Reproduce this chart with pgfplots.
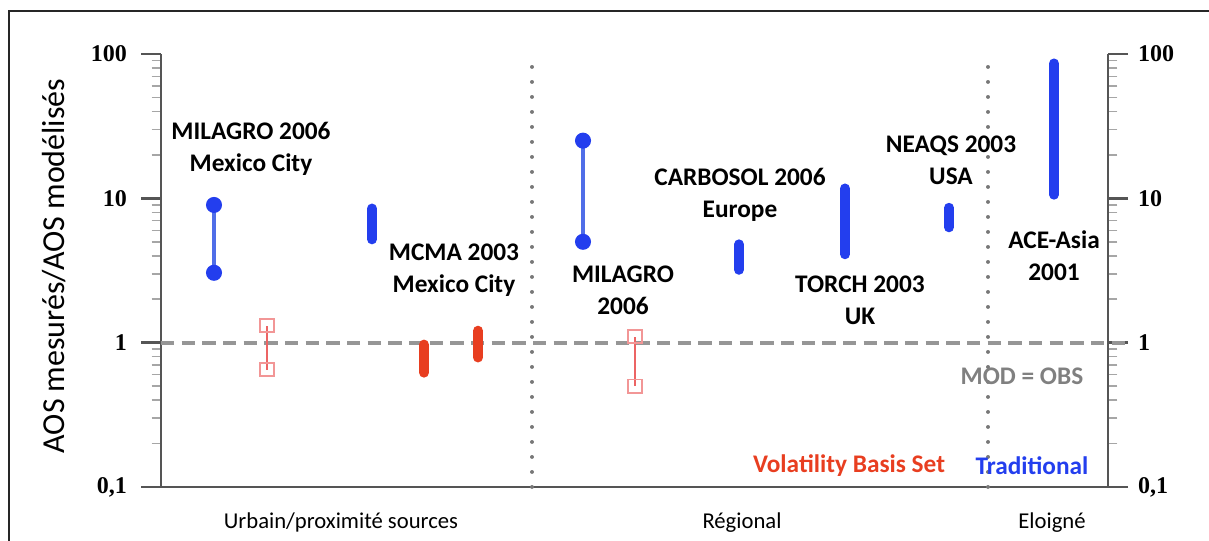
\documentclass[border=0pt]{standalone}
\usepackage{fontspec}
\setmainfont{Carlito}
\newfontfamily\tickfont{Liberation Serif}
\usepackage{pgfplots}
\pgfplotsset{compat=1.18}

\definecolor{tradblue}{RGB}{35,62,238}
\definecolor{tradthin}{RGB}{80,110,232}
\definecolor{vbsred}{RGB}{232,62,32}
\definecolor{vbsthin}{RGB}{236,100,100}
\definecolor{vbsbox}{RGB}{242,150,150}
\definecolor{axgray}{RGB}{85,85,85}
\definecolor{dashgray}{RGB}{150,150,150}
\definecolor{dotgray}{RGB}{120,120,120}

\tikzset{rng/.style={line width=7.5pt, line cap=round}}

\begin{document}
\begin{tikzpicture}[x=0.75pt,y=0.75pt]
\useasboundingbox (0,0) rectangle (1209,540);
\draw[line width=1.5pt, black!85] (9,-10) -- (9,529) -- (1230,529);

% right-hand scale
\begin{axis}[at={(120.75pt,39.75pt)}, anchor=south west,
  scale only axis, width=710.25pt, height=324.75pt,
  xmin=161, xmax=1108, ymode=log, ymin=0.1, ymax=100,
  xtick=\empty, ytick={0.1,1,10,100},
  yticklabels={\textbf{0,1},\textbf{1},\textbf{10},\textbf{100}},
  yticklabel style={font=\tickfont\fontsize{18}{20}\selectfont, xshift=4pt},
  tick align=outside, major tick length=15pt, minor tick length=7pt,
  major tick style={axgray, line width=2pt},
  minor tick style={gray!70, line width=1.2pt},
  axis line style={-, axgray, line width=2.2pt},
  axis x line=none, axis y line*=right, ytick pos=right]
\end{axis}

\begin{axis}[at={(120.75pt,39.75pt)}, anchor=south west,
  scale only axis, width=710.25pt, height=324.75pt,
  xmin=161, xmax=1108, ymode=log, ymin=0.1, ymax=100,
  xtick=\empty, ytick={0.1,1,10,100},
  yticklabels={\textbf{0,1},\textbf{1},\textbf{10},\textbf{100}},
  yticklabel style={font=\tickfont\fontsize{18}{20}\selectfont, xshift=-7pt},
  tick align=outside, major tick length=15pt, minor tick length=7pt,
  major tick style={axgray, line width=2pt},
  minor tick style={gray!70, line width=1.2pt},
  axis line style={-, axgray, line width=2.2pt},
  clip=false,
  axis x line*=bottom, axis y line*=left, ytick pos=left]

% MOD = OBS and region separators
\draw[dashgray, line width=3pt, dash pattern=on 10pt off 5.5pt]
  (axis cs:161,1) -- (axis cs:1128,1);
\draw[dotgray, line width=2.8pt, dash pattern=on 0.1pt off 11.15pt, line cap=round]
  (axis cs:532,0.1) -- (axis cs:532,88);
\draw[dotgray, line width=2.8pt, dash pattern=on 0.1pt off 11.15pt, line cap=round]
  (axis cs:988,0.1) -- (axis cs:988,88);

% Urbain / proximite sources
\addplot[tradthin, line width=2.4pt, mark=*, mark size=4.8pt,
  mark options={fill=tradblue, draw=tradblue}] coordinates {(214,3.05) (214,9.0)};
\addplot[vbsthin, line width=1.6pt, mark=square, mark size=5pt,
  mark options={draw=vbsbox, line width=1.4pt}] coordinates {(267,0.65) (267,1.31)};
\addplot[tradblue, rng] coordinates {(372,5.2) (372,8.5)};
\addplot[vbsred, rng] coordinates {(424,0.62) (424,0.97)};
\addplot[vbsred, rng] coordinates {(478,0.79) (478,1.21)};

% Regional
\addplot[tradthin, line width=2.4pt, mark=*, mark size=4.8pt,
  mark options={fill=tradblue, draw=tradblue}] coordinates {(583,5.0) (583,25.1)};
\addplot[vbsthin, line width=1.6pt, mark=square, mark size=5pt,
  mark options={draw=vbsbox, line width=1.4pt}] coordinates {(635,0.50) (635,1.10)};
\addplot[tradblue, rng] coordinates {(739,3.2) (739,4.8)};
\addplot[tradblue, rng] coordinates {(845,4.1) (845,11.7)};
\addplot[tradblue, rng] coordinates {(949,6.3) (949,8.6)};

% Eloigne
\addplot[tradblue, rng] coordinates {(1054,10.6) (1054,86)};
\end{axis}

% annotations
\begin{scope}[every node/.style={font=\fontsize{19}{24}\selectfont\bfseries, align=center}]
\node at (251,391) {MILAGRO 2006\\Mexico City};
\node at (454,270) {MCMA 2003\\Mexico City};
\node at (623,250) {MILAGRO\\2006};
\node at (740,345) {CARBOSOL 2006\\Europe};
\node at (860,240) {TORCH 2003\\UK};
\node at (951,380) {NEAQS 2003\\USA};
\node at (1054,284) {ACE-Asia\\2001};
\node[text=gray] at (1022,164) {MOD = OBS};
\node[text=vbsred] at (849,74) {Volatility Basis Set};
\node[text=tradblue] at (1032,74) {Traditional};
\end{scope}

\begin{scope}[every node/.style={font=\fontsize{17}{20}\selectfont}]
\node at (341,18) {Urbain/proximité sources};
\node at (742,17) {Régional};
\node at (1052,17) {Eloigné};
\end{scope}

\node[rotate=90, font=\fontsize{24}{28}\selectfont] at (54,274) {AOS mesurés/AOS modélisés};
\end{tikzpicture}
\end{document}
